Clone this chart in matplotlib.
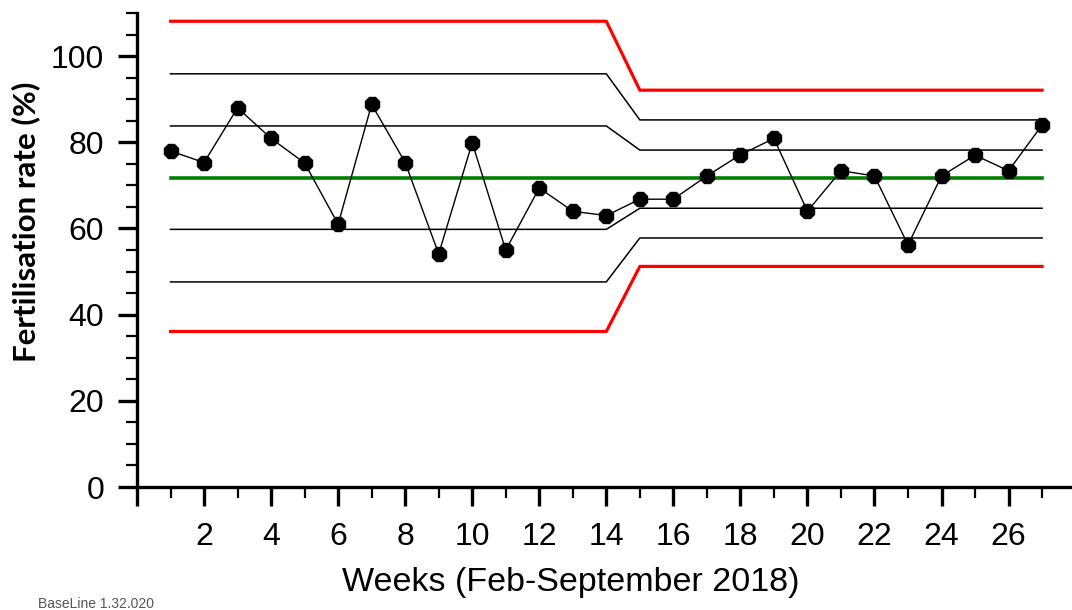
import numpy as np
import matplotlib
matplotlib.use('Agg')
import matplotlib.pyplot as plt
from matplotlib.ticker import MultipleLocator

# Weekly fertilisation rate (%)
weeks = list(range(1, 28))
rate = [78, 75.3, 88, 80.9, 75.2, 61, 88.8, 75.3, 54.1, 79.9,
        55, 69.4, 64, 63, 66.8, 66.8, 72.2, 77.1, 80.9, 64,
        73.4, 72.2, 56.2, 72.2, 77, 73.4, 84]

# Centre line and limits, phase 1 = weeks 1-14, phase 2 = weeks 15-27
centre = 71.8
ucl = [108.1, 92.1]
lcl = [36.1, 51.2]
upper_2s = [95.9, 85.2]
upper_1s = [83.8, 78.2]
lower_1s = [59.8, 64.7]
lower_2s = [47.6, 57.8]

split = 14


def step_line(vals):
    xs = [1, split, split + 1, 27]
    ys = [vals[0], vals[0], vals[1], vals[1]]
    return xs, ys


fig = plt.figure(figsize=(10.72, 6.10), dpi=100)
ax = fig.add_axes([0.1278, 0.2016, 0.874, 0.777])

for band in (upper_2s, upper_1s, lower_1s, lower_2s):
    ax.plot(*step_line(band), color='black', lw=1.1, zorder=2)
ax.plot(*step_line(ucl), color='#ff0000', lw=2.3, zorder=3)
ax.plot(*step_line(lcl), color='#ff0000', lw=2.3, zorder=3)
ax.plot([1, 27], [centre, centre], color='#008000', lw=2.6, zorder=3)

ax.plot(weeks, rate, color='black', lw=1.0, marker='8', ms=10.5,
        markerfacecolor='black', markeredgecolor='black', zorder=4)

ax.set_xlim(0, 27.95)
ax.set_ylim(0, 110)
ax.xaxis.set_major_locator(MultipleLocator(2))
ax.xaxis.set_minor_locator(MultipleLocator(1))
ax.yaxis.set_major_locator(MultipleLocator(20))
ax.yaxis.set_minor_locator(MultipleLocator(5))
ax.set_yticks([0, 20, 40, 60, 80, 100])
ax.set_xticks(range(0, 28, 2))
ax.set_xticklabels([''] + [str(w) for w in range(2, 28, 2)])

for s in ('top', 'right'):
    ax.spines[s].set_visible(False)
for s in ('left', 'bottom'):
    ax.spines[s].set_linewidth(2.4)

ax.tick_params(which='major', direction='out', length=13.5, width=2.4,
               labelsize=23)
ax.tick_params(which='minor', direction='out', length=8, width=1.6)
ax.tick_params(axis='y', which='major', pad=10)
ax.tick_params(axis='x', which='major', pad=12)
for lbl in ax.get_xticklabels() + ax.get_yticklabels():
    lbl.set_fontfamily('Liberation Sans')

ax.set_xlabel('Weeks (Feb-September 2018)', fontsize=24.5,
              family='Liberation Sans')
ax.set_ylabel('Fertilisation rate (%)', fontsize=22.5, fontweight='bold',
              family='Lato')
ax.xaxis.set_label_coords(0.463, -0.169)
ax.yaxis.set_label_coords(-0.1035, 0.559)

fig.text(0.035, 0.003, 'BaseLine 1.32.020', fontsize=10, color='#555555',
         family='Liberation Sans')

fig.savefig('out.png', dpi=100)
